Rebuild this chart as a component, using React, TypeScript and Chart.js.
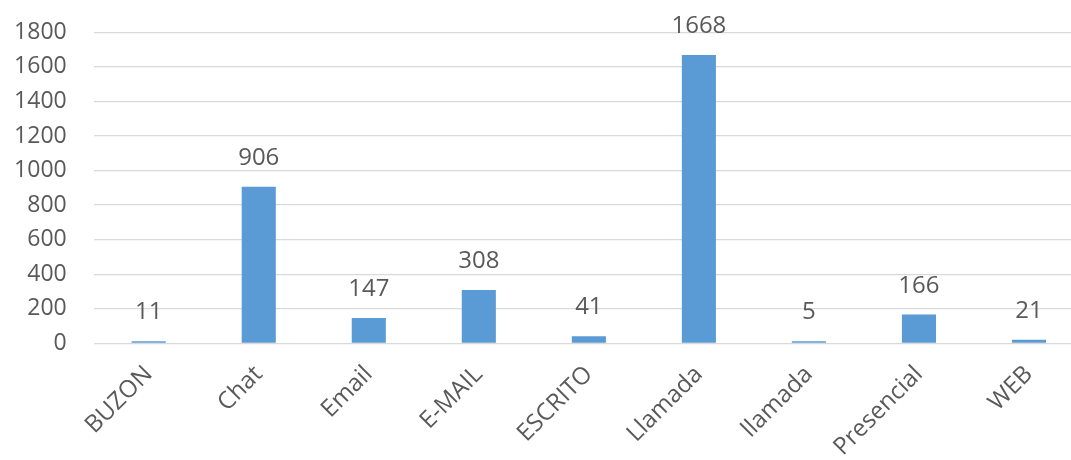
import React, { useEffect, useRef } from "react";
import { Chart, registerables } from "chart.js";

Chart.register(...registerables);

const categories = ["BUZON", "Chat", "Email", "E-MAIL", "ESCRITO", "Llamada", "llamada", "Presencial", "WEB"];
const values = [11, 906, 147, 308, 41, 1668, 5, 166, 21];
const yTicks = [0, 200, 400, 600, 800, 1000, 1200, 1400, 1600, 1800];

const FONT = "'Open Sans', sans-serif";
const TEXT = "#595959";

const valueLabels = {
  id: "valueLabels",
  afterDatasetsDraw(chart: any) {
    const ctx = chart.ctx;
    const meta = chart.getDatasetMeta(0);
    ctx.save();
    ctx.font = `24px ${FONT}`;
    ctx.fillStyle = TEXT;
    ctx.textAlign = "center";
    ctx.textBaseline = "alphabetic";
    meta.data.forEach((bar: any, i: number) => {
      ctx.fillText(String(values[i]), bar.x, bar.y - 22);
    });
    ctx.restore();
  },
};

export default function App() {
  const ref = useRef<HTMLCanvasElement>(null);
  useEffect(() => {
    if (!ref.current) return;
    const chart = new Chart(ref.current, {
      type: "bar",
      data: {
        labels: categories,
        datasets: [
          {
            data: values,
            backgroundColor: "#5B9BD5",
            borderWidth: 0,
            minBarLength: 2,
            barPercentage: 0.31,
            categoryPercentage: 1,
          },
        ],
      },
      options: {
        responsive: false,
        animation: false,
        layout: { padding: { top: 32.3, left: 0, right: 0, bottom: 0 } },
        plugins: { legend: { display: false }, tooltip: { enabled: false } },
        scales: {
          x: {
            grid: { display: false, drawTicks: false },
            border: { display: false },
            ticks: {
              color: TEXT,
              font: { family: FONT, size: 24 },
              minRotation: 45,
              maxRotation: 45,
              padding: 17,
            },
            afterFit: (s: any) => {
              s.height = 116.7;
              s.paddingLeft = 0;
              s.paddingRight = 0;
            },
          },
          y: {
            min: 0,
            max: 1800,
            afterBuildTicks: (s: any) => {
              s.ticks = yTicks.map((v) => ({ value: v }));
            },
            grid: { color: "#D9D9D9", lineWidth: 1.3, drawTicks: false },
            border: { display: false },
            ticks: {
              color: TEXT,
              font: { family: FONT, size: 23 },
              padding: 27,
              callback: (v: any) => String(v),
            },
            afterFit: (s: any) => {
              s.width = 93.7;
              s.paddingTop = 0;
              s.paddingBottom = 0;
            },
          },
        },
      },
      plugins: [valueLabels],
    });
    return () => chart.destroy();
  }, []);
  return (
    <div style={{ position: "fixed", left: 0, top: 0, width: 1071, height: 460, overflow: "hidden", background: "#fff" }}>
      <canvas ref={ref} width={1084} height={460} style={{ display: "block" }} />
    </div>
  );
}
